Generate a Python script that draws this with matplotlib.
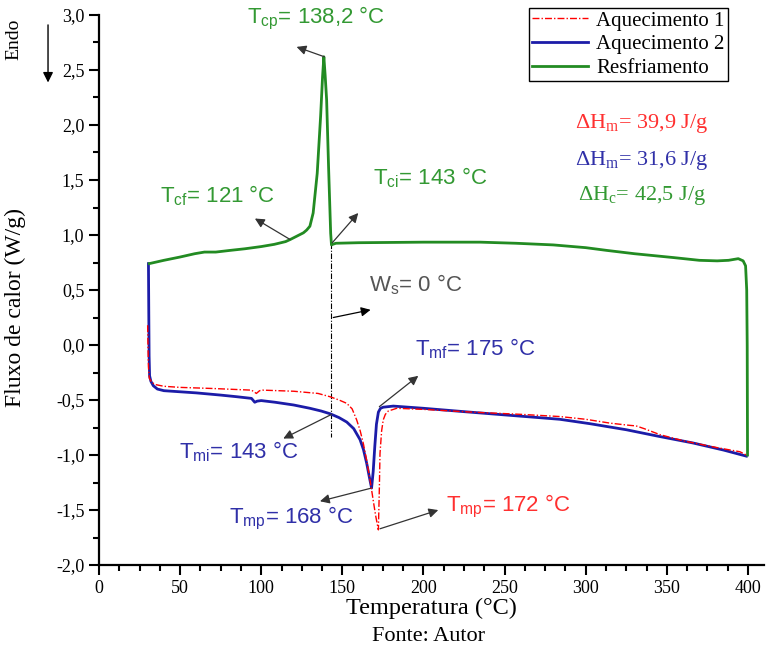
import matplotlib
matplotlib.use("Agg")
import matplotlib.pyplot as plt
import numpy as np

plt.rcParams['font.family'] = 'Liberation Serif'
plt.rcParams['mathtext.default'] = 'regular'

# Resfriamento (cooling run)
t_cool = [31, 40, 50, 59, 65, 72, 80.7, 90, 100, 108, 115, 118, 122, 126, 128, 130, 132,
          134.5, 136.6, 137.8, 138.6, 139.4, 140.3, 141.5, 142.8, 143.3, 144, 146, 160,
          200, 235, 257, 280, 300, 313, 330, 354, 370, 381, 388, 394, 397, 398.5, 399.2,
          399.5, 399.6, 399.7]
f_cool = [0.74, 0.77, 0.80, 0.83, 0.845, 0.845, 0.86, 0.875, 0.895, 0.915, 0.94, 0.96, 0.99,
          1.02, 1.045, 1.08, 1.20, 1.56, 2.08, 2.44, 2.62, 2.45, 2.23, 1.62, 1.015, 0.91,
          0.915, 0.925, 0.93, 0.935, 0.935, 0.925, 0.91, 0.885, 0.86, 0.83, 0.795, 0.77,
          0.765, 0.77, 0.785, 0.765, 0.72, 0.5, 0.0, -0.5, -1.0]

# Aquecimento 1 (first heating)
t_heat1 = [30, 30.2, 30.5, 31, 32.5, 35, 40, 50, 70, 94, 97, 99, 101, 120, 135, 142.4, 148,
           152.7, 156, 158.8, 161, 163, 165, 167, 169, 170.5, 172.2, 172.8, 173.2, 174.2,
           175.2, 176.5, 178.3, 183.5, 200, 230, 260, 284, 300, 315, 327, 331, 336, 345.8,
           360, 380, 395, 399]
f_heat1 = [0.18, 0.0, -0.2, -0.3, -0.34, -0.36, -0.375, -0.385, -0.395, -0.41, -0.44, -0.415,
           -0.41, -0.42, -0.44, -0.47, -0.5, -0.53, -0.58, -0.68, -0.78, -0.9, -1.05, -1.22,
           -1.41, -1.55, -1.68, -1.3, -0.985, -0.78, -0.68, -0.63, -0.6, -0.575, -0.585,
           -0.61, -0.63, -0.65, -0.675, -0.71, -0.73, -0.735, -0.76, -0.815, -0.87, -0.93,
           -0.97, -1.0]

# Aquecimento 2 (second heating)
t_heat2 = [30.5, 30.7, 30.9, 31.2, 32, 33.5, 36, 40, 50, 60, 75, 85, 94, 96, 97.5, 100, 108.5,
           120, 130, 137, 142.5, 148, 152.7, 157, 160.9, 163, 165, 166.5, 168, 169, 170, 171,
           172.2, 173.5, 175.2, 181.4, 200, 224.5, 250, 284, 302.6, 325, 345, 366, 385, 399]
f_heat2 = [0.74, 0.3, -0.1, -0.28, -0.33, -0.37, -0.40, -0.415, -0.425, -0.435, -0.455, -0.47,
           -0.485, -0.52, -0.51, -0.505, -0.52, -0.545, -0.575, -0.6, -0.625, -0.66, -0.70,
           -0.76, -0.86, -0.95, -1.075, -1.19, -1.30, -1.15, -0.92, -0.72, -0.61, -0.575,
           -0.565, -0.555, -0.575, -0.605, -0.635, -0.675, -0.715, -0.77, -0.83, -0.89,
           -0.955, -1.01]

x_ticks = [0, 50, 100, 150, 200, 250, 300, 350, 400]
y_ticks = [-2.0, -1.5, -1.0, -0.5, 0.0, 0.5, 1.0, 1.5, 2.0, 2.5, 3.0]
y_tick_labels = ['-2,0', '-1,5', '-1,0', '-0,5', '0,0', '0,5', '1,0', '1,5', '2,0', '2,5', '3,0']

green = '#228B22'
green_txt = '#339933'
blue = '#1c1ca8'
blue_txt = '#3030a8'
red = '#ff0000'
red_txt = '#ff3030'

fig = plt.figure(figsize=(7.66, 6.51), dpi=100)
ax = fig.add_axes([0.1292, 0.132, 0.8685, 0.845])

ax.plot(t_heat1, f_heat1, color=red, lw=1.0, ls=(0, (5, 1.5, 1, 1.5)), label='Aquecimento 1', zorder=4)
ax.plot(t_heat2, f_heat2, color=blue, lw=2.0, label='Aquecimento 2', zorder=3)
ax.plot(t_cool, f_cool, color=green, lw=2.0, label='Resfriamento', zorder=3)

# onset line
ax.plot([143, 143], [0.93, -0.84], color='black', lw=0.8, ls=(0, (5, 1.5, 1, 1.5)), zorder=2)

ax.set_xlim(0, 410)
ax.set_ylim(-2, 3)
ax.set_xticks(x_ticks)
ax.set_xticks(np.arange(0, 401, 12.5), minor=True)
ax.set_yticks(y_ticks)
ax.set_yticklabels(y_tick_labels)
ax.set_yticks(np.arange(-2, 3.01, 0.25), minor=True)
ax.tick_params(which='major', direction='out', length=7, width=1.5, labelsize=13)
ax.tick_params(which='minor', direction='out', length=4, width=1.5)
for s in ['top', 'right']:
    ax.spines[s].set_visible(False)
for s in ['left', 'bottom']:
    ax.spines[s].set_linewidth(1.6)

ax.set_xlabel('Temperatura (°C)', fontsize=17.5, labelpad=1)
fig.text(0.560, 0.022, 'Fonte: Autor', fontsize=16, ha='center', va='center')
fig.text(0.020, 0.527, 'Fluxo de calor (W/g)', fontsize=17, rotation=90, ha='center', va='center')
fig.text(0.018, 0.940, 'Endo', fontsize=14, rotation=90, ha='center', va='center')
fig.add_artist(matplotlib.patches.FancyArrowPatch((0.0627, 0.966), (0.0627, 0.869),
                                                  transform=fig.transFigure, arrowstyle='-|>',
                                                  mutation_scale=15, color='black', lw=1.0))

leg = ax.legend(loc='upper right', bbox_to_anchor=(728 / 766, 1 - 8 / 651),
                bbox_transform=fig.transFigure, fontsize=15, frameon=True, fancybox=False,
                edgecolor='black', framealpha=1, handlelength=2.7, borderpad=0.15,
                labelspacing=0.2, handletextpad=0.4, borderaxespad=0)
leg.get_frame().set_linewidth(1.0)

sans = 'Liberation Sans'
arrow = dict(arrowstyle='-|>', color='#333333', lw=0.9, mutation_scale=14, shrinkA=0, shrinkB=0)
fs = 16

ax.text(133.7, 2.97, 'T$_{cp}$= 138,2 °C', color=green_txt, fontsize=fs, family=sans, ha='center', va='center')
ax.annotate('', xy=(121.8, 2.71), xytext=(138.9, 2.62), arrowprops=arrow)
ax.text(73.3, 1.36, 'T$_{cf}$= 121 °C', color=green_txt, fontsize=fs, family=sans, ha='center', va='center')
ax.annotate('', xy=(96.1, 1.15), xytext=(117.7, 0.96), arrowprops=arrow)
ax.text(204, 1.52, 'T$_{ci}$= 143 °C', color=green_txt, fontsize=fs, family=sans, ha='center', va='center')
ax.annotate('', xy=(159.8, 1.20), xytext=(143.8, 0.93), arrowprops=arrow)
ax.text(195.5, 0.545, 'W$_{s}$= 0 °C', color='#555555', fontsize=fs, family=sans, ha='center', va='center')
ax.annotate('', xy=(167.4, 0.32), xytext=(144.4, 0.25), arrowprops=dict(arrow, color='black'))
ax.text(231.8, -0.03, 'T$_{mf}$= 175 °C', color=blue_txt, fontsize=fs, family=sans, ha='center', va='center')
ax.annotate('', xy=(196.8, -0.28), xytext=(172.8, -0.56), arrowprops=arrow)
ax.text(86.3, -0.97, 'T$_{mi}$= 143 °C', color=blue_txt, fontsize=fs, family=sans, ha='center', va='center')
ax.annotate('', xy=(113.6, -0.85), xytext=(143.4, -0.63), arrowprops=arrow)
ax.text(118.8, -1.575, 'T$_{mp}$= 168 °C', color=blue_txt, fontsize=fs, family=sans, ha='center', va='center')
ax.annotate('', xy=(136.2, -1.42), xytext=(168, -1.30), arrowprops=arrow)
ax.text(252, -1.47, 'T$_{mp}$= 172 °C', color=red_txt, fontsize=fs, family=sans, ha='center', va='center')
ax.annotate('', xy=(209.1, -1.50), xytext=(173.2, -1.67), arrowprops=arrow)

ax.text(334.5, 2.015, 'ΔH$_{m}$= 39,9 J/g', color=red_txt, fontsize=fs, ha='center', va='center')
ax.text(334.5, 1.68, 'ΔH$_{m}$= 31,6 J/g', color=blue_txt, fontsize=fs, ha='center', va='center')
ax.text(334.5, 1.36, 'ΔH$_{c}$= 42,5 J/g', color=green_txt, fontsize=fs, ha='center', va='center')

fig.savefig('out.png', dpi=100)
